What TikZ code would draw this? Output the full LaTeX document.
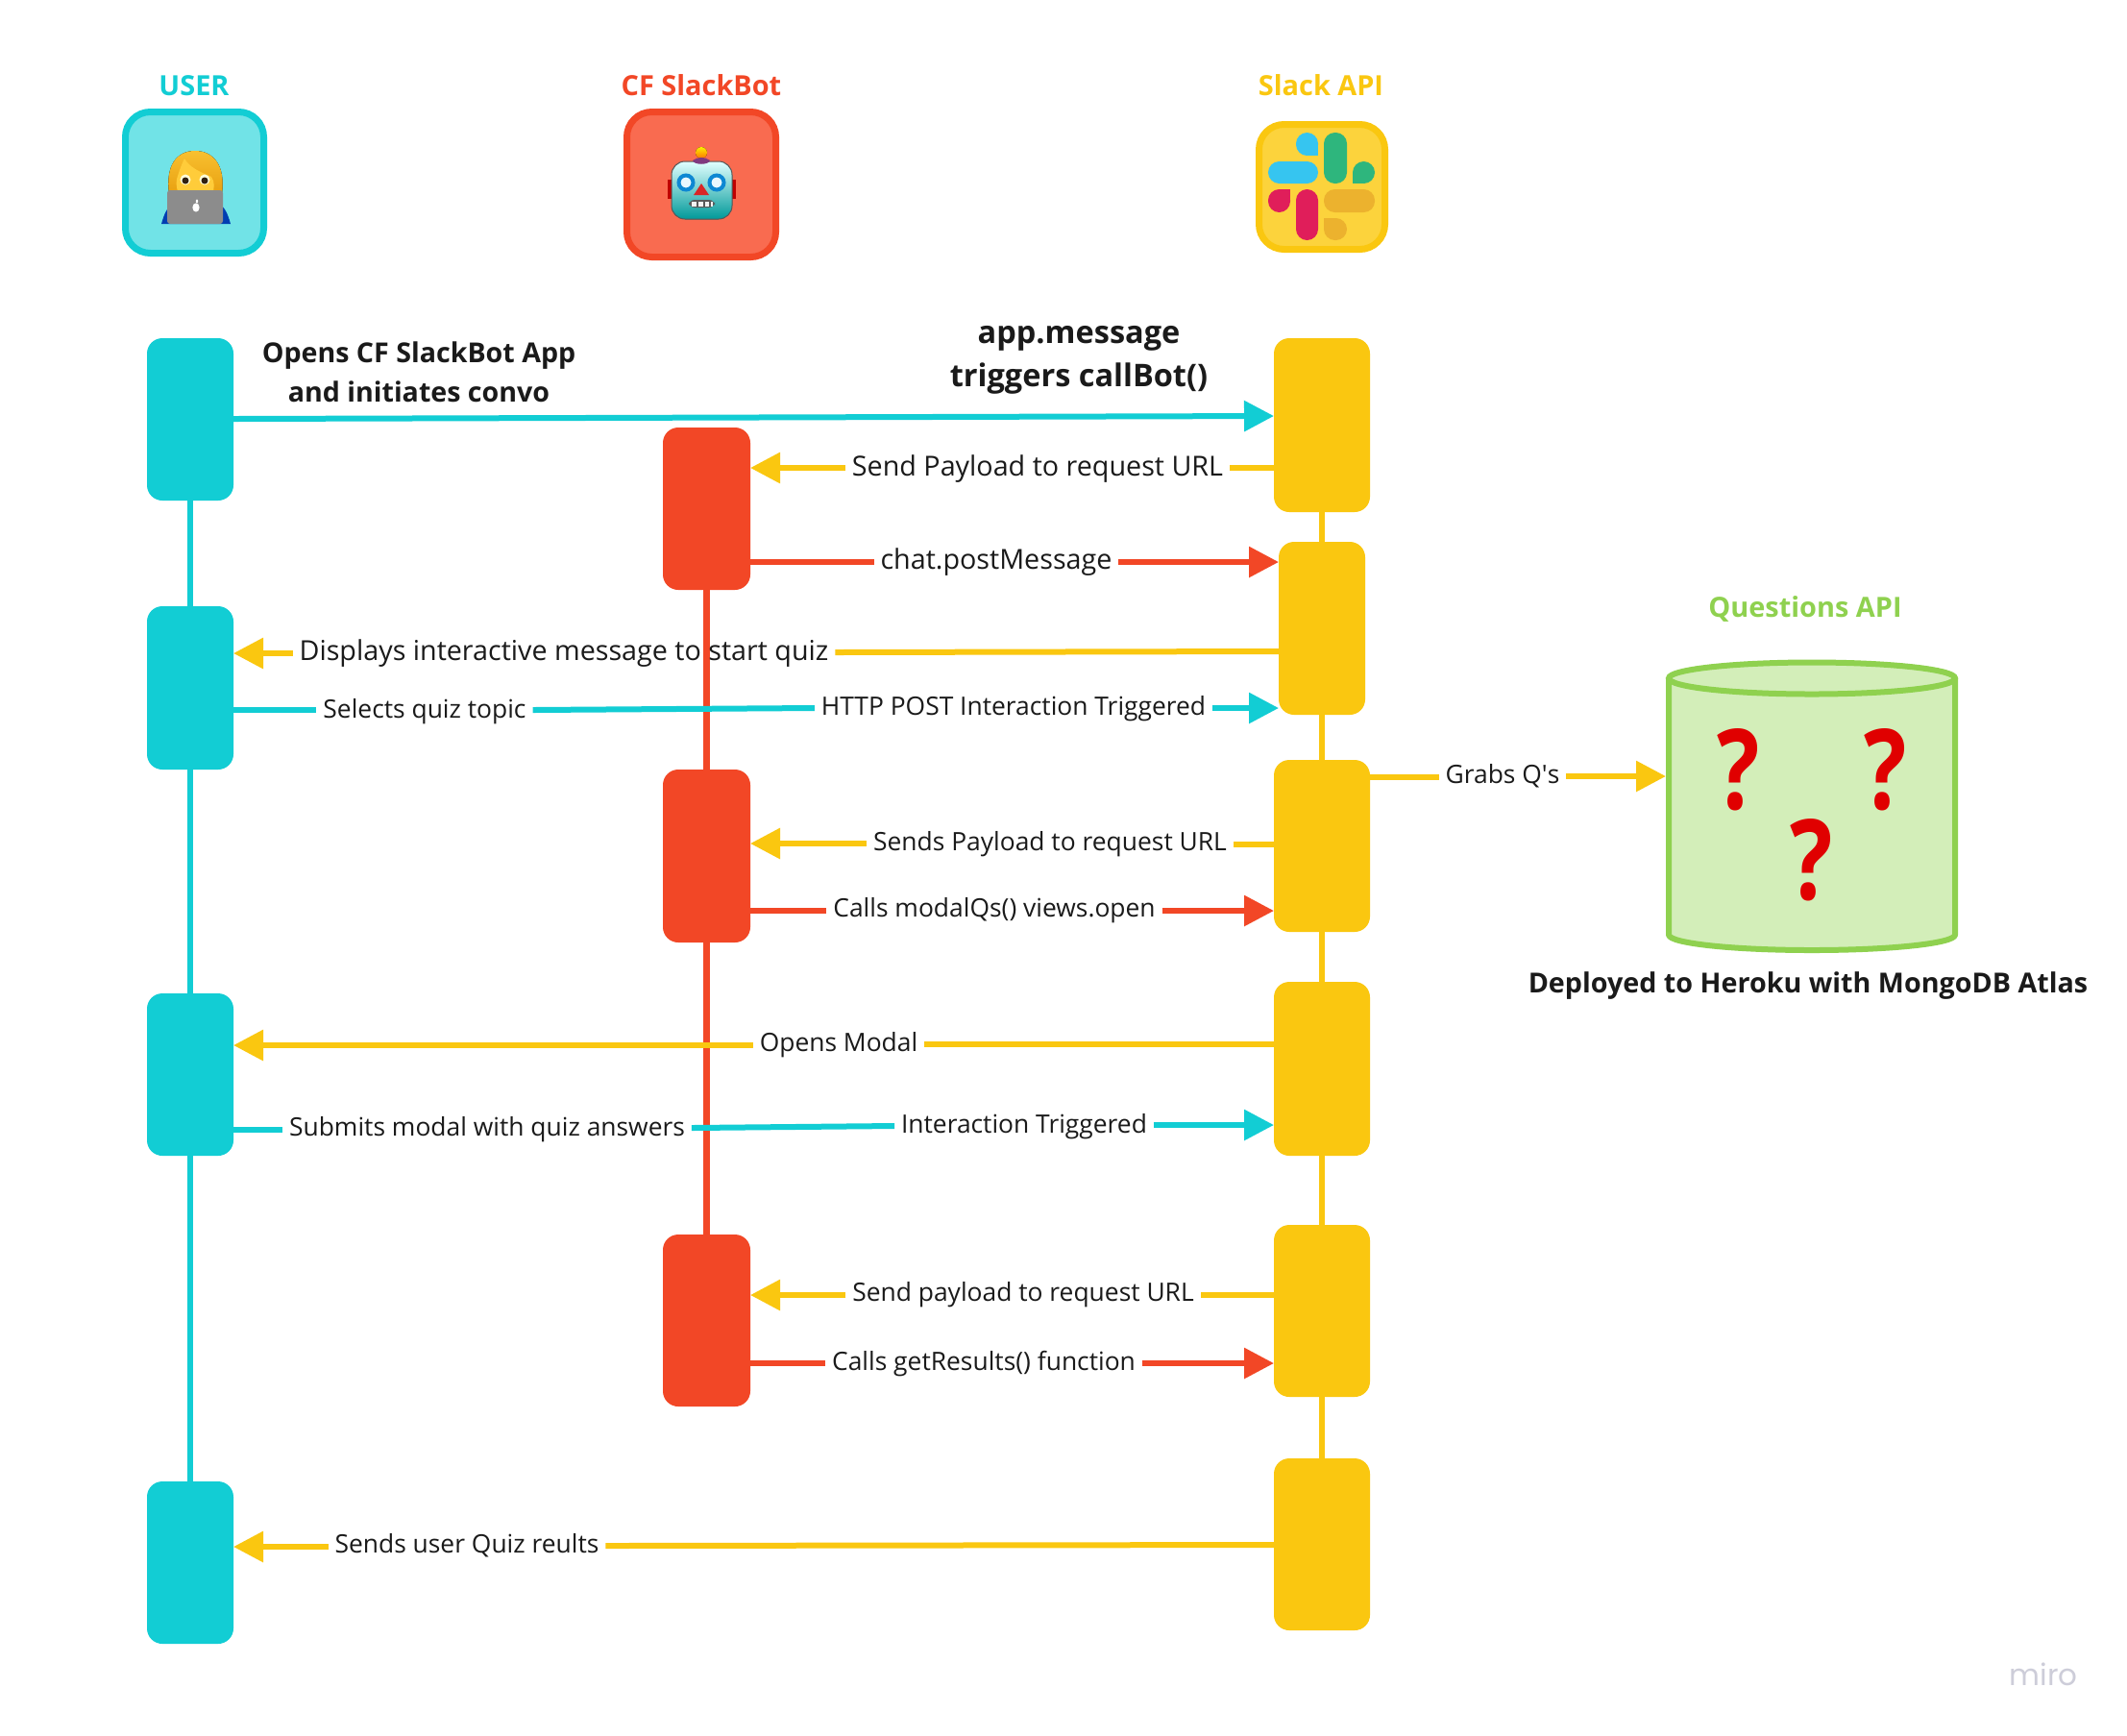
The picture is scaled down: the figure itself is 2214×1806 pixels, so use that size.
\documentclass[tikz,border=0pt]{standalone}
\usepackage{fontspec}
\setmainfont{Open Sans}
\newfontfamily\mirofont{Poppins}
\usetikzlibrary{arrows.meta,shapes.geometric}
\definecolor{cyn}{HTML}{12CDD4}
\definecolor{cynl}{HTML}{71E3E7}
\definecolor{rdd}{HTML}{F24726}
\definecolor{rddl}{HTML}{F96B50}
\definecolor{yel}{HTML}{FAC710}
\definecolor{yell}{HTML}{FCD33C}
\definecolor{grn}{HTML}{8FD14F}
\definecolor{grnl}{HTML}{D3EEB9}
\definecolor{ink}{HTML}{1A1A1A}
\definecolor{sblue}{HTML}{36C5F0}
\definecolor{sgreen}{HTML}{2EB67D}
\definecolor{sred}{HTML}{E01E5A}
\definecolor{syel}{HTML}{ECB22E}
\definecolor{mirogrey}{HTML}{CDCDD9}
\definecolor{qred}{HTML}{E00000}
\definecolor{hairtop}{HTML}{F8C030}
\definecolor{hairbot}{HTML}{E8A010}
\definecolor{skin}{HTML}{FFCC3A}
\tikzset{
  bar/.style={rounded corners=8pt,inner sep=0pt,outer sep=0pt},
  ucol/.style={bar,fill=cyn,minimum width=45pt},
  rcol/.style={bar,fill=rdd,minimum width=45.5pt},
  ycol/.style={bar,fill=yel,minimum width=50pt},
  life/.style={line width=3.2pt},
  conn/.style={line width=3pt},
  head/.style={-{Triangle[length=15.5pt,width=15.5pt]}},
  lab/.style={inner xsep=3.5pt,inner ysep=0pt,outer sep=0pt,text=ink,text height=.76em,text depth=.24em,font=\fontsize{13.2}{15}\selectfont},
  labbig/.style={lab,font=\fontsize{14.35}{16}\selectfont},
  hdr/.style={inner sep=0pt,font=\bfseries\fontsize{14.45}{18}\selectfont},
  bold/.style={inner sep=0pt,align=center,text=ink},
  icon/.style={draw,line width=3.5pt,inner sep=0pt,outer sep=0pt},
  qm/.style={inner sep=0pt,text=qred,xscale=.8,font=\bfseries\fontsize{58}{60}\selectfont},
}
\newcommand{\tear}[7]{% colour x1 y1 x2 y2, corner rectangle
  \fill[#1,rounded corners=5.75pt] (#2,#3) rectangle (#4,#5);
  \fill[#1] #6 rectangle #7;}
\begin{document}
\begin{tikzpicture}[x=0.5pt,y=-0.5pt]
\useasboundingbox (0,0) rectangle (2214,1806);
\fill[white] (0,0) rectangle (2214,1806);

% headers
\node[hdr,text=cyn] (tU) at (202,89) {USER};
\node[hdr,text=rdd] (tR) at (730,89) {CF SlackBot};
\node[hdr,text=yel] (tY) at (1375,89) {Slack API};
\node[hdr,text=grn] (tQ) at (1879,634) {Questions API};

\node[icon,draw=cyn,fill=cynl,rounded corners=13pt,minimum width=72pt,minimum height=73.5pt] (iU) at (202.5,190) {};
\node[icon,draw=rdd,fill=rddl,rounded corners=13pt,minimum width=77.5pt,minimum height=75.5pt] (iR) at (730,192) {};
\node[icon,draw=yel,fill=yell,rounded corners=13pt,minimum width=65.5pt,minimum height=65pt] (iY) at (1376,194.5) {};

% woman emoji
\fill[blue!65!cyan!70!black] (168,233) .. controls (171,222) and (174,216) .. (180,212) -- (228,212) .. controls (234,216) and (237,222) .. (240,233) -- cycle;
\fill[top color=hairtop,bottom color=hairbot] (176,202) .. controls (172,172) and (184,157) .. (203,157) .. controls (222,157) and (235,172) .. (231,202) -- cycle;
\fill[skin] (186,202) .. controls (183,194) and (183,188) .. (185,183) .. controls (187,177) and (189,171) .. (192,165) .. controls (197,174) and (208,179) .. (220,184) .. controls (224,190) and (223,196) .. (221,202) -- cycle;
\fill[white!85!yellow] (193,187) circle (5.5);
\fill[white!85!yellow] (213,187) circle (5.5);
\fill[black!75!brown] (193,188) circle (3.5);
\fill[black!75!brown] (213,188) circle (3.5);
\fill[black!45!white,rounded corners=1.5pt] (174,198) rectangle (232,233);
\fill[white] (204,216) ellipse (3.6 and 4.6);
\fill[white] (205,209.5) ellipse (1.2 and 2);

% robot emoji
\fill[red!75!black] (695,187) rectangle (704,207);
\fill[red!75!black] (757,187) rectangle (766,207);
\fill[top color=yellow!85!orange,bottom color=orange!90!red] (730,159) circle (6);
\fill[top color=cyan!12!white,bottom color=teal!80!cyan,rounded corners=7pt,draw=black!30!gray,line width=.5pt] (699,168) rectangle (762,228);
\fill[violet!55!gray] (721,167) .. controls (726,163) and (734,163) .. (739,167) .. controls (738,172) and (722,172) .. (721,167) -- cycle;
\draw[cyan!70!blue,line width=2pt,fill=cyan!8!white] (714,190) circle (7.5);
\draw[cyan!70!blue,line width=2pt,fill=cyan!8!white] (746,190) circle (7.5);
\fill[red!70!gray] (730,191) -- (738,203) -- (722,203) -- cycle;
\fill[black!65,rounded corners=3pt] (717,208) rectangle (744,216);
\fill[white!90!gray] (720,209.5) rectangle (725,214.5);
\fill[white!90!gray] (727,209.5) rectangle (731.5,214.5);
\fill[white!90!gray] (733.5,209.5) rectangle (738,214.5);
\fill[white!90!gray] (739.5,209.5) rectangle (742,214.5);

% Slack logo
\tear{sblue}{1349}{138}{1372}{162}{(1360,150)}{(1372,162)}
\fill[sblue,rounded corners=5.75pt] (1320,168) rectangle (1372,191);
\fill[sgreen,rounded corners=5.75pt] (1378,138) rectangle (1402,191);
\tear{sgreen}{1408}{168}{1431}{191}{(1408,180)}{(1420,191)}
\tear{sred}{1320}{197}{1343}{221}{(1332,197)}{(1343,209)}
\fill[sred,rounded corners=5.75pt] (1349,197) rectangle (1372,250);
\fill[syel,rounded corners=5.75pt] (1378,197) rectangle (1431,221);
\tear{syel}{1378}{227}{1402}{250}{(1378,227)}{(1390,239)}

% activation bars
\node[ucol,minimum height=84.5pt] (U1) at (198,436.5) {};
\node[ucol,minimum height=85pt]   (U2) at (198,716) {};
\node[ucol,minimum height=84.5pt] (U3) at (198,1118.5) {};
\node[ucol,minimum height=84.5pt] (U4) at (198,1626.5) {};
\node[rcol,minimum height=84.5pt] (R1) at (735.5,529.5) {};
\node[rcol,minimum height=90pt]   (R2) at (735.5,891) {};
\node[rcol,minimum height=89.5pt] (R3) at (735.5,1374.5) {};
\node[ycol,minimum height=90.5pt] (Y1) at (1376,442.5) {};
\node[ycol,minimum width=45pt,minimum height=90pt] (Y2) at (1376,654) {};
\node[ycol,minimum height=89.5pt] (Y3) at (1376,880.5) {};
\node[ycol,minimum height=90.5pt] (Y4) at (1376,1112.5) {};
\node[ycol,minimum height=89.5pt] (Y5) at (1376,1364.5) {};
\node[ycol,minimum height=89.5pt] (Y6) at (1376,1607.5) {};

% lifelines
\draw[life,cyn] (U1) -- (U2);
\draw[life,cyn] (U2) -- (U3);
\draw[life,cyn] (U3) -- (U4);
\draw[life,rdd] (R1) -- (R2);
\draw[life,rdd] (R2) -- (R3);
\draw[life,yel] (Y1) -- (Y2);
\draw[life,yel] (Y2) -- (Y3);
\draw[life,yel] (Y3) -- (Y4);
\draw[life,yel] (Y4) -- (Y5);
\draw[life,yel] (Y5) -- (Y6);

% database
\node[inner sep=0pt,outer sep=0pt,minimum width=152pt,minimum height=150pt] (DB) at (1886,840) {};
\fill[grnl] (1737,706) -- (1737,973) arc[start angle=180,end angle=0,x radius=149,y radius=16] -- (2035,706) -- cycle;
\draw[grn,line width=3pt,line join=round] (1737,706) -- (1737,973) arc[start angle=180,end angle=0,x radius=149,y radius=16] -- (2035,706);
\draw[grn,line width=3pt,fill=grnl] (1886,706) ellipse (149 and 16.5);
\node[qm] (q1) at (1810,801) {?};
\node[qm] (q2) at (1963,801) {?};
\node[qm] (q3) at (1886,895) {?};
\node[bold,font=\bfseries\fontsize{14.35}{18}\selectfont] (dep) at (1882,1026) {Deployed to Heroku with MongoDB Atlas};

% bold labels
\node[bold,font=\bfseries\fontsize{14.3}{20.5}\selectfont] (lOpen) at (436,387) {Opens CF SlackBot App\\and initiates convo};
\node[bold,font=\bfseries\fontsize{16.25}{22.5}\selectfont] (lApp) at (1123,375) {app.message\\triggers callBot()};

% connector labels
\node[labbig] (a2) at (1080,490) {Send Payload to request URL};
\node[labbig] (a3) at (1037,587) {chat.postMessage};
\node[labbig] (a4) at (587,682) {Displays interactive message to start quiz};
\node[lab] (a5a) at (442,742) {Selects quiz topic};
\node[lab] (a5b) at (1055,739) {HTTP POST Interaction Triggered};
\node[lab] (a6) at (1564,810) {Grabs Q\textquotesingle s};
\node[lab] (a7) at (1093,880) {Sends Payload to request URL};
\node[lab] (a8) at (1035,949) {Calls modalQs() views.open};
\node[lab] (a9) at (873,1089) {Opens Modal};
\node[lab] (a10a) at (507,1177) {Submits modal with quiz answers};
\node[lab] (a10b) at (1066,1174) {Interaction Triggered};
\node[lab] (a11) at (1065,1349) {Send payload to request URL};
\node[lab] (a12) at (1024,1421) {Calls getResults() function};
\node[lab] (a13) at (486,1611) {Sends user Quiz reults};

% connectors
\draw[conn,cyn,head] (U1.east |- 0,436) -- (Y1.west |- 0,433);
\draw[conn,yel] (Y1.west |- 0,487) -- (a2.east |- 0,487);
\draw[conn,yel,head] (a2.west |- 0,487) -- (R1.east |- 0,487);
\draw[conn,rdd] (R1.east |- 0,585) -- (a3.west |- 0,585);
\draw[conn,rdd,head] (a3.east |- 0,585) -- (Y2.west |- 0,585);
\draw[conn,yel] (Y2.west |- 0,678) -- (a4.east |- 0,679);
\draw[conn,yel,head] (a4.west |- 0,680) -- (U2.east |- 0,680);
\draw[conn,cyn] (U2.east |- 0,739) -- (a5a.west |- 0,739);
\draw[conn,cyn] (a5a.east |- 0,739) -- (a5b.west |- 0,737);
\draw[conn,cyn,head] (a5b.east |- 0,737) -- (Y2.west |- 0,737);
\draw[conn,yel] (Y3.east |- 0,809) -- (a6.west |- 0,809);
\draw[conn,yel,head] (a6.east |- 0,808) -- (DB.west |- 0,808);
\draw[conn,yel] (Y3.west |- 0,879) -- (a7.east |- 0,879);
\draw[conn,yel,head] (a7.west |- 0,878) -- (R2.east |- 0,878);
\draw[conn,rdd] (R2.east |- 0,948) -- (a8.west |- 0,948);
\draw[conn,rdd,head] (a8.east |- 0,948) -- (Y3.west |- 0,948);
\draw[conn,yel] (Y4.west |- 0,1087) -- (a9.east |- 0,1087);
\draw[conn,yel,head] (a9.west |- 0,1088) -- (U3.east |- 0,1088);
\draw[conn,cyn] (U3.east |- 0,1176) -- (a10a.west |- 0,1176);
\draw[conn,cyn] (a10a.east |- 0,1174) -- (a10b.west |- 0,1172);
\draw[conn,cyn,head] (a10b.east |- 0,1171) -- (Y4.west |- 0,1171);
\draw[conn,yel] (Y5.west |- 0,1348) -- (a11.east |- 0,1348);
\draw[conn,yel,head] (a11.west |- 0,1348) -- (R3.east |- 0,1348);
\draw[conn,rdd] (R3.east |- 0,1419) -- (a12.west |- 0,1419);
\draw[conn,rdd,head] (a12.east |- 0,1419) -- (Y5.west |- 0,1419);
\draw[conn,yel] (Y6.west |- 0,1608) -- (a13.east |- 0,1609);
\draw[conn,yel,head] (a13.west |- 0,1610) -- (U4.east |- 0,1610);

% watermark
\node[inner sep=0pt,text=mirogrey,font=\mirofont\fontsize{15.5}{18}\selectfont] (miro) at (2127,1743) {miro};
\end{tikzpicture}
\end{document}
